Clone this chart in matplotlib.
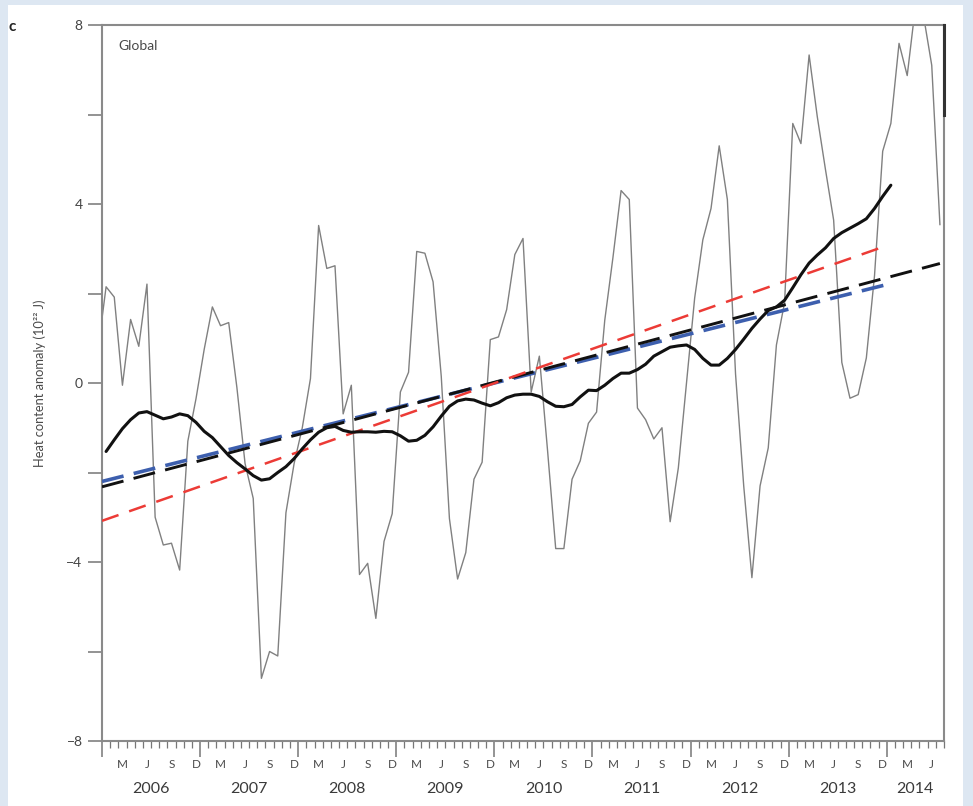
import numpy as np
import matplotlib
matplotlib.use("Agg")
import matplotlib.pyplot as plt
from matplotlib.patches import Rectangle
from matplotlib.transforms import blended_transform_factory

plt.rcParams['font.family'] = ['Lato', 'DejaVu Sans']

# Monthly global heat content anomaly (10^22 J), Dec 2005 .. Jul 2014
monthly_anomaly = [
    0.73,
    2.15, 1.92, -0.05, 1.42, 0.82, 2.21, -3.0, -3.62, -3.58, -4.18, -1.3, -0.35,      # 2006
    0.75, 1.7, 1.28, 1.35, -0.1, -1.8, -2.58, -6.6, -6.0, -6.1, -2.9, -1.8,            # 2007
    -1.0, 0.1, 3.52, 2.56, 2.62, -0.69, -0.05, -4.28, -4.03, -5.26, -3.54, -2.92,      # 2008
    -0.2, 0.24, 2.94, 2.9, 2.26, 0.15, -3.03, -4.38, -3.79, -2.15, -1.77, 0.97,        # 2009
    1.03, 1.64, 2.87, 3.23, -0.2, 0.6, -1.5, -3.7, -3.7, -2.15, -1.74, -0.9,           # 2010
    -0.65, 1.4, 2.8, 4.3, 4.1, -0.56, -0.82, -1.25, -1.0, -3.1, -1.9, 0.0,             # 2011
    1.9, 3.2, 3.9, 5.3, 4.1, 0.2, -2.3, -4.35, -2.3, -1.45, 0.85, 1.8,                 # 2012
    5.8, 5.35, 7.33, 5.95, 4.77, 3.64, 0.46, -0.34, -0.26, 0.56, 2.4, 5.18,            # 2013
    5.8, 7.59, 6.87, 8.41, 8.2, 7.1, 3.54,                                             # 2014
]

# Running mean of the monthly series, Jan 2006 .. Jan 2014
running_mean = [
    -1.53, -1.27, -1.02, -0.82, -0.67, -0.64, -0.72, -0.80, -0.76, -0.69, -0.73, -0.88,
    -1.08, -1.22, -1.42, -1.62, -1.78, -1.92, -2.07, -2.17, -2.14, -2.00, -1.87, -1.69,
    -1.47, -1.27, -1.10, -1.00, -0.97, -1.06, -1.10, -1.09, -1.09, -1.10, -1.08, -1.09,
    -1.18, -1.30, -1.28, -1.17, -0.98, -0.74, -0.52, -0.40, -0.36, -0.38, -0.45, -0.51,
    -0.44, -0.33, -0.27, -0.25, -0.25, -0.30, -0.42, -0.52, -0.53, -0.48, -0.31, -0.16,
    -0.17, -0.05, 0.10, 0.22, 0.22, 0.30, 0.42, 0.60, 0.70, 0.80, 0.83, 0.85,
    0.75, 0.55, 0.40, 0.40, 0.55, 0.75, 0.98, 1.22, 1.43, 1.62, 1.70, 1.85,
    2.13, 2.42, 2.68, 2.86, 3.02, 3.23, 3.36, 3.46, 3.56, 3.67, 3.90, 4.17,
    4.42,
]

# Linear trends: (start month, end month) and (start value, end value)
red_trend_months = [0.0, 96.0]
red_trend_values = [-3.08, 3.07]
blue_trend_months = [0.0, 96.0]
blue_trend_values = [-2.20, 2.20]
black_trend_months = [0.0, 102.5]
black_trend_values = [-2.32, 2.67]

# Final value drawn along the right edge
edge_months = [103.0, 103.0]
edge_values = [6.0, 8.0]

month_letters = ['M', 'J', 'S', 'D']
years = ['2006', '2007', '2008', '2009', '2010', '2011', '2012', '2013', '2014']
y_ticks = [-8, -4, 0, 4, 8]
y_minor = [-6, -2, 2, 6]
n_months = 103  # Jan 2006 .. Jul 2014

fig = plt.figure(figsize=(9.73, 8.06), dpi=100, facecolor='#dde7f2')
fig.patches.append(Rectangle((8 / 973, 0), (963 - 8) / 973, (806 - 5) / 806,
                             transform=fig.transFigure, facecolor='white',
                             edgecolor='none', zorder=-10))
ax = fig.add_axes([102 / 973, 1 - 741 / 806, (944 - 102) / 973, (741 - 25) / 806])
ax.set_facecolor('white')

mx = np.arange(len(monthly_anomaly)) - 0.5
ax.plot(mx, monthly_anomaly, color='#808080', lw=1.0, zorder=2)

rx = np.arange(len(running_mean)) + 0.5
ax.plot(rx, running_mean, color='#111111', lw=2.2, zorder=5, solid_capstyle='round')

# Same on-screen dash pattern for the blue and black trends (dashes scale with lw)
dash_on, dash_off = 16.0, 7.5
blue_lw, black_lw = 2.6, 2.1
ax.plot(blue_trend_months, blue_trend_values, color='#3d5fae', lw=blue_lw,
        dashes=(dash_on / blue_lw, dash_off / blue_lw), zorder=3)
ax.plot(black_trend_months, black_trend_values, color='#111111', lw=black_lw,
        dashes=(dash_on / black_lw, dash_off / black_lw), zorder=4)
ax.plot(red_trend_months, red_trend_values, color='#ec3b36', lw=1.8,
        dashes=(7, 4.5), zorder=4)

ax.plot(edge_months, edge_values, color='#333333', lw=2.2, clip_on=False, zorder=6)

ax.set_xlim(0, n_months)
ax.set_ylim(-8, 8)

for s in ax.spines.values():
    s.set_color('#8a8a8a')
    s.set_linewidth(1.5)

ax.set_yticks(y_ticks)
ax.set_yticks(y_minor, minor=True)
ax.set_yticklabels([str(v) if v >= 0 else '\u2212' + str(-v) for v in y_ticks])
ax.tick_params(axis='y', which='both', direction='out', length=10, width=1.3,
               color='#8a8a8a', labelsize=10, labelcolor='#444444', pad=4)

ax.set_xticks(np.arange(0, n_months + 1, 12))
ax.set_xticks([m for m in range(1, n_months + 1) if m % 12], minor=True)
ax.set_xticklabels([])
ax.tick_params(axis='x', which='major', direction='out', length=11.5, width=1.1,
               color='#777777')
ax.tick_params(axis='x', which='minor', direction='out', length=5, width=0.9,
               color='#777777')

trans = blended_transform_factory(ax.transData, ax.transAxes)
for y0 in range(0, n_months, 12):
    for k, letter in enumerate(month_letters):
        m = y0 + 2.5 + 3 * k
        if m < n_months:
            ax.text(m, -0.0335, letter, transform=trans, ha='center', va='center',
                    fontsize=8.5, color='#4a4a4a')
for i, yr in enumerate(years):
    start = 12 * i
    end = min(12 * (i + 1), n_months)
    ax.text((start + end) / 2, -0.0665, yr, transform=trans, ha='center',
            va='center', fontsize=11.5, color='#3a3a3a')

ax.set_ylabel('Heat content anomaly (10\u00b2\u00b2 J)', fontsize=9.3, color='#4a4a4a')
ax.yaxis.set_label_coords(-0.066, 0.5)

ax.text(0.019, 0.97, 'Global', transform=ax.transAxes, ha='left', va='center',
        fontsize=10, color='#4a4a4a')
fig.text(0.009, 0.966, 'c', ha='left', va='center', fontsize=11,
         fontweight='bold', color='#222222')

fig.savefig('out.png', dpi=100, facecolor=fig.get_facecolor())
